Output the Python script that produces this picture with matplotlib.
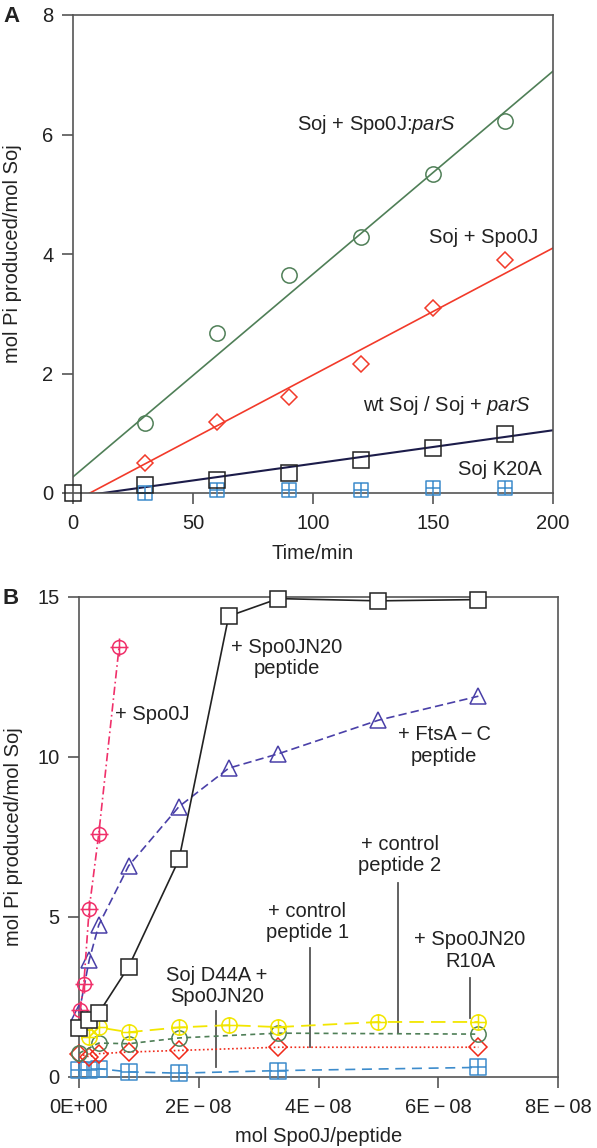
"""
Soj ATPase activity: time course (A) and Spo0J / peptide titration (B)
"""

import matplotlib
matplotlib.use("Agg")
import matplotlib.pyplot as plt
from matplotlib.path import Path
from matplotlib.ticker import FuncFormatter

plt.rcParams["font.family"] = ["Liberation Sans", "DejaVu Sans"]
plt.rcParams["mathtext.fontset"] = "custom"
plt.rcParams["mathtext.rm"] = "Liberation Sans"
plt.rcParams["mathtext.it"] = "Liberation Sans:italic"
FONT_SIZE = 14.5
TEXT_COLOR = "#222222"
FRAME_COLOR = "#555555"

# ---- panel A data (time in min, mol Pi / mol Soj) ----
time_min = [30, 60, 90, 120, 150, 180]
soj_spo0j_pars = [1.17, 2.68, 3.65, 4.28, 5.34, 6.23]
soj_spo0j = [0.50, 1.19, 1.60, 2.16, 3.09, 3.90]
wt_time = [0, 30, 60, 90, 120, 150, 180]
wt_soj = [0.0, 0.13, 0.22, 0.33, 0.55, 0.75, 0.98]
soj_k20a = [0.0, 0.05, 0.05, 0.05, 0.08, 0.08]

# fitted lines (value at t=0 and t=200)
fit_time = [0, 200]
fit_spo0j_pars = [0.27, 7.06]
fit_spo0j = [-0.15, 4.10]
fit_wt = [-0.07, 1.05]

# ---- panel B data (x in units of 1E-08 mol) ----
x_spo0j = [0.02, 0.08, 0.17, 0.33, 0.67]
y_spo0j = [2.10, 2.90, 5.25, 7.60, 13.45]

x_n20 = [0.0, 0.17, 0.33, 0.83, 1.67, 2.5, 3.33, 5.0, 6.67]
y_n20 = [1.52, 1.78, 2.00, 3.45, 6.80, 14.40, 14.95, 14.88, 14.92]

x_ftsa = [0.0, 0.17, 0.33, 0.83, 1.67, 2.5, 3.33, 5.0, 6.67]
y_ftsa = [2.00, 3.65, 4.75, 6.60, 8.45, 9.65, 10.10, 11.15, 11.90]

x_r10a = [0.17, 0.33, 0.83, 1.67, 2.5, 3.33, 5.0, 6.67]
y_r10a = [1.25, 1.55, 1.40, 1.55, 1.62, 1.56, 1.72, 1.72]

x_ctrl2 = [0.0, 0.33, 0.83, 1.67, 3.33, 6.67]
y_ctrl2 = [0.74, 1.06, 1.04, 1.22, 1.37, 1.34]

x_ctrl1 = [0.0, 0.17, 0.33, 0.83, 1.67, 3.33, 6.67]
y_ctrl1 = [0.73, 0.63, 0.73, 0.78, 0.83, 0.93, 0.93]

x_d44a = [0.0, 0.17, 0.33, 0.83, 1.67, 3.33, 6.67]
y_d44a = [0.23, 0.21, 0.26, 0.16, 0.12, 0.20, 0.30]

B_SCALE = 1e-8

# マーカー: 十字入りの四角・丸
cross = Path([(0, -1), (0, 1), (-1, 0), (1, 0)],
             [Path.MOVETO, Path.LINETO, Path.MOVETO, Path.LINETO])
square = Path([(-1, -1), (1, -1), (1, 1), (-1, 1), (-1, -1)],
              [Path.MOVETO, Path.LINETO, Path.LINETO, Path.LINETO, Path.CLOSEPOLY])
square_plus = Path.make_compound_path(square, cross)
circle_plus = Path.make_compound_path(Path.unit_circle(), cross)
long_cross = Path([(0, -1.3), (0, 1.3), (-1.3, 0), (1.3, 0)],
                  [Path.MOVETO, Path.LINETO, Path.MOVETO, Path.LINETO])
target = Path.make_compound_path(Path.unit_circle(), long_cross)

fig = plt.figure(figsize=(5.97, 11.48), dpi=100)
ax_a = fig.add_axes([73 / 597, 1 - 493 / 1148, 480 / 597, 478 / 1148])
ax_b = fig.add_axes([79 / 597, 1 - 1077 / 1148, 479 / 597, 480 / 1148])


def style_axes(ax):
    for side in ["left", "right", "top", "bottom"]:
        ax.spines[side].set_color(FRAME_COLOR)
        ax.spines[side].set_linewidth(1.2)
    ax.tick_params(direction="out", length=8, width=1.2, color=FRAME_COLOR,
                   labelsize=FONT_SIZE, labelcolor=TEXT_COLOR, pad=6)
    ax.tick_params(axis="x", pad=7)


# ---------------- Panel A ----------------
style_axes(ax_a)
mk = dict(linestyle="none", markerfacecolor="none", clip_on=False, zorder=3)

ax_a.plot(fit_time, fit_spo0j_pars, color="#4f7f57", lw=1.2)
ax_a.plot(fit_time, fit_spo0j, color="#f23a2a", lw=1.2)
ax_a.plot(fit_time, fit_wt, color="#1c1c4a", lw=1.5)

ax_a.plot(time_min, soj_k20a, marker=square_plus, markersize=10,
          markeredgecolor="#3d8ccc", markeredgewidth=1.1, **mk)
ax_a.plot(wt_time, wt_soj, marker="s", markersize=11,
          markeredgecolor="#222222", markeredgewidth=1.1, **mk)
ax_a.plot(time_min, soj_spo0j, marker="D", markersize=8.5,
          markeredgecolor="#f23a2a", markeredgewidth=1.1, **mk)
ax_a.plot(time_min, soj_spo0j_pars, marker="o", markersize=11,
          markeredgecolor="#4f7f57", markeredgewidth=1.1, **mk)

ax_a.set_xlim(0, 200)
ax_a.set_ylim(0, 8)
ax_a.set_xticks([0, 50, 100, 150, 200])
ax_a.set_yticks([0, 2, 4, 6, 8])
ax_a.set_xlabel("Time/min", fontsize=FONT_SIZE, color=TEXT_COLOR)
ax_a.set_ylabel("mol Pi produced/mol Soj", fontsize=FONT_SIZE, color=TEXT_COLOR)
ax_a.xaxis.set_label_coords(0.5, -0.107)
ax_a.yaxis.set_label_coords(-0.106, 0.5)

txt = dict(fontsize=FONT_SIZE, color=TEXT_COLOR, va="center")
ax_a.text(93.3, 6.16, "Soj + Spo0J:$\\mathit{parS}$", ha="left", **txt)
ax_a.text(148.3, 4.28, "Soj + Spo0J", ha="left", **txt)
ax_a.text(120.8, 1.46, "wt Soj / Soj + $\\mathit{parS}$", ha="left", **txt)
ax_a.text(160.4, 0.40, "Soj K20A", ha="left", **txt)

# ---------------- Panel B ----------------
style_axes(ax_b)


def bx(values):
    return [v * B_SCALE for v in values]


ax_b.plot(bx(x_d44a), y_d44a, color="#3d8ccc", lw=1.2, linestyle=(0, (6, 4)),
          marker=square_plus, markersize=11, markerfacecolor="none",
          markeredgecolor="#3d8ccc", markeredgewidth=1.1, clip_on=False, zorder=3)
ax_b.plot(bx(x_ctrl1), y_ctrl1, color="#f02a1a", lw=1.2, linestyle=(0, (1, 1.5)),
          marker="D", markersize=9, markerfacecolor="none",
          markeredgecolor="#f02a1a", markeredgewidth=1.1, clip_on=False, zorder=3)
ax_b.plot(bx(x_ctrl2), y_ctrl2, color="#4f7f57", lw=1.2, linestyle=(0, (3, 2.5)),
          marker="o", markersize=11, markerfacecolor="none",
          markeredgecolor="#4f7f57", markeredgewidth=1.1, clip_on=False, zorder=3)
ax_b.plot(bx(x_r10a), y_r10a, color="#f2e600", lw=1.3, linestyle=(0, (8, 4)),
          marker=circle_plus, markersize=11, markerfacecolor="none",
          markeredgecolor="#f2e600", markeredgewidth=1.1, clip_on=False, zorder=3)
ax_b.plot(bx(x_ftsa), y_ftsa, color="#4a40a8", lw=1.2, linestyle=(0, (5, 2.5)),
          marker="^", markersize=11, markerfacecolor="none",
          markeredgecolor="#4a40a8", markeredgewidth=1.1, clip_on=False, zorder=3)
ax_b.plot(bx(x_spo0j), y_spo0j, color="#f0306a", lw=1.2,
          linestyle=(0, (5, 2, 1, 2)),
          marker=target, markersize=13, markerfacecolor="none",
          markeredgecolor="#f0306a", markeredgewidth=1.1, clip_on=False, zorder=3)
ax_b.plot(bx(x_n20), y_n20, color="#222222", lw=1.2,
          marker="s", markersize=11, markerfacecolor="white",
          markeredgecolor="#222222", markeredgewidth=1.1, clip_on=False, zorder=4)

ax_b.set_xlim(0, 8 * B_SCALE)
ax_b.set_ylim(0, 15)
ax_b.set_xticks([0, 2 * B_SCALE, 4 * B_SCALE, 6 * B_SCALE, 8 * B_SCALE])
ax_b.set_yticks([0, 5, 10, 15])


def sci_label(v, p):
    if v == 0:
        return "0E+00"
    return f"{v / B_SCALE:.0f}E\u2009\u2212\u200908"


ax_b.xaxis.set_major_formatter(FuncFormatter(sci_label))
ax_b.set_xlabel("mol Spo0J/peptide", fontsize=FONT_SIZE, color=TEXT_COLOR)
ax_b.set_ylabel("mol Pi produced/mol Soj", fontsize=FONT_SIZE, color=TEXT_COLOR)
ax_b.xaxis.set_label_coords(0.5, -0.105)
ax_b.yaxis.set_label_coords(-0.117, 0.5)

txt_c = dict(fontsize=FONT_SIZE, color=TEXT_COLOR, va="center", ha="center",
             linespacing=1.15)
ax_b.text(0.60 * B_SCALE, 11.34, "+ Spo0J", fontsize=FONT_SIZE, color=TEXT_COLOR,
          va="center", ha="left")
ax_b.text(3.47 * B_SCALE, 13.09, "+ Spo0JN20\npeptide", **txt_c)
ax_b.text(6.10 * B_SCALE, 10.36, "+ FtsA\u2009\u2212\u2009C\npeptide", **txt_c)
ax_b.text(5.36 * B_SCALE, 6.94, "+ control\npeptide 2", **txt_c)
ax_b.text(3.81 * B_SCALE, 4.84, "+ control\npeptide 1", **txt_c)
ax_b.text(6.53 * B_SCALE, 3.95, "+ Spo0JN20\nR10A", **txt_c)
ax_b.text(2.30 * B_SCALE, 2.84, "Soj D44A +\nSpo0JN20", **txt_c)

# 引き出し線
leaders = [(2.29, 2.06, 0.31), (3.86, 4.03, 0.94), (5.33, 6.06, 1.37), (6.53, 3.09, 1.84)]
for lx, y0, y1 in leaders:
    ax_b.plot([lx * B_SCALE, lx * B_SCALE], [y0, y1], color="#555555", lw=1.3, zorder=2)

fig.text(3 / 597, 1 - 17 / 1148, "A", fontsize=16, fontweight="bold",
         color=TEXT_COLOR, va="center", ha="left")
fig.text(2 / 597, 1 - 599 / 1148, "B", fontsize=16, fontweight="bold",
         color=TEXT_COLOR, va="center", ha="left")

plt.savefig("out.png", dpi=100)
plt.close(fig)
